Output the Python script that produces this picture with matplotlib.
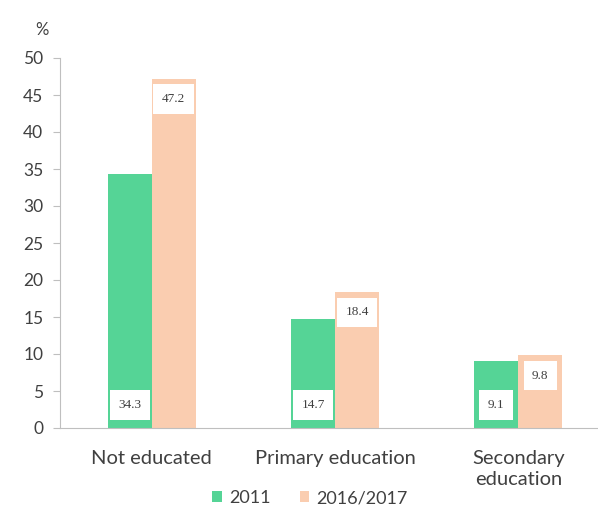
import numpy as np
import matplotlib
matplotlib.use('Agg')
import matplotlib.pyplot as plt

# Data
categories = ['Not educated', 'Primary education', 'Secondary\neducation']
series_names = ['2011', '2016/2017']
vals_2011 = [34.3, 14.7, 9.1]
vals_2017 = [47.2, 18.4, 9.8]
yticks = [0, 5, 10, 15, 20, 25, 30, 35, 40, 45, 50]

green = '#55D496'
peach = '#FACDB0'
axis_grey = '#BFBFBF'
text_col = '#404040'

plt.rcParams['font.family'] = ['Lato', 'DejaVu Sans']

fig = plt.figure(figsize=(5.98, 5.12), dpi=100)
ax = fig.add_axes([60/598, 84/512, 550/598, 370/512])

x = np.arange(len(categories))
w = 0.24
b1 = ax.bar(x - w/2, vals_2011, w, color=green, label=series_names[0], zorder=2)
b2 = ax.bar(x + w/2, vals_2017, w, color=peach, label=series_names[1], zorder=2)

# data labels: 2011 near base, 2016/2017 just under the bar top
box = dict(boxstyle='square,pad=0.65', fc='white', ec='none')
for xi, v in zip(x - w/2, vals_2011):
    ax.text(xi, 3.1, f'{v:.1f}', ha='center', va='center', fontsize=9.5,
            family='Liberation Serif', color=text_col, bbox=box, zorder=3)
for xi, v in zip(x + w/2, vals_2017):
    ax.text(xi, v - 2.75, f'{v:.1f}', ha='center', va='center', fontsize=9.5,
            family='Liberation Serif', color=text_col, bbox=box, zorder=3)

ax.set_xlim(-0.5, 2.5)
ax.set_ylim(0, 50)
ax.set_yticks(yticks)
ax.set_xticks(x)
ax.set_xticklabels(categories, fontsize=14.5, color=text_col, linespacing=1.3)
ax.tick_params(axis='x', length=0, pad=16)
ax.tick_params(axis='y', length=5, color=axis_grey, labelsize=12.5,
               labelcolor=text_col, pad=7)

for s in ['top', 'right']:
    ax.spines[s].set_visible(False)
for s in ['left', 'bottom']:
    ax.spines[s].set_color(axis_grey)

fig.text(42/598, 1 - 30/512, '%', fontsize=12, color=text_col,
         ha='center', va='center')

fig.legend(handles=[b1, b2], loc='center', bbox_to_anchor=(310/598, 1 - 498/512),
           ncol=2, frameon=False, fontsize=13, handlelength=0.55,
           handleheight=0.55, handletextpad=0.4, columnspacing=1.6,
           labelcolor=text_col, borderpad=0)

fig.savefig('out.png', dpi=100)
